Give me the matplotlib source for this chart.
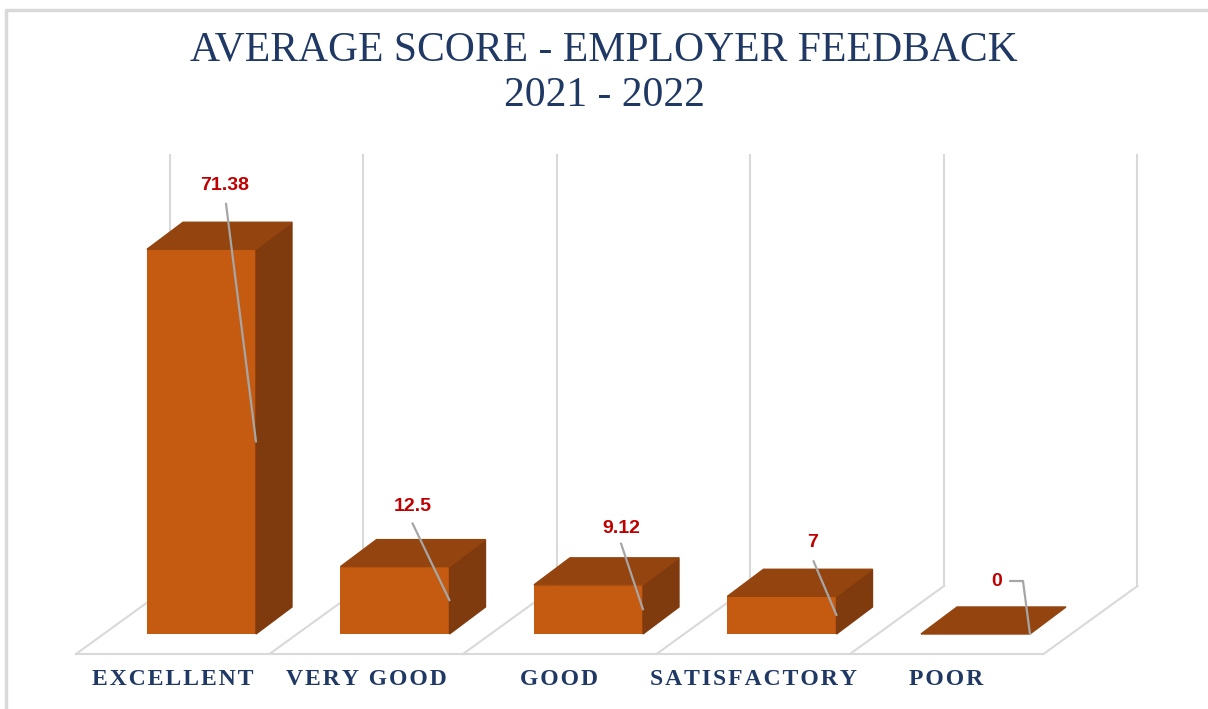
import matplotlib
matplotlib.use("Agg")
import matplotlib.pyplot as plt
from matplotlib.patches import Polygon
from matplotlib.transforms import offset_copy

# data
categories = ["EXCELLENT", "VERY GOOD", "GOOD", "SATISFACTORY", "POOR"]
scores = [71.38, 12.5, 9.12, 7, 0]
score_labels = ["71.38", "12.5", "9.12", "7", "0"]

# colours
FRONT = "#C55A11"
TOP = "#94440E"
SIDE = "#7F3A0D"
GRID = "#D9D9D9"
NAVY = "#1F3864"
RED = "#C00000"
LEADER = "#A6A6A6"

fig = plt.figure(figsize=(12.08, 7.09), dpi=100)
ax = fig.add_axes([0, 0, 1, 1])
ax.set_xlim(-1.0413, 5.2016)
ax.set_ylim(-13.915, 117.625)
ax.axis("off")

# 3d look (data units)
bar_w = 0.5633
depth_x, depth_y = 0.186, 5.01
floor_front, floor_back = -3.711, 8.905
div_front, div_back = -0.6486, -0.1628
wall_top = 88.87
n = len(categories)

# back wall gridlines + floor
for k in range(n + 1):
    ax.plot([k + div_back, k + div_back], [floor_back, wall_top], color=GRID, lw=1.5, zorder=1)
    ax.plot([k + div_front, k + div_back], [floor_front, floor_back], color=GRID, lw=1.5, zorder=1)
ax.plot([div_front, n + div_front], [floor_front, floor_front], color=GRID, lw=1.5, zorder=1)

# bars
for i, v in enumerate(scores):
    x0 = i - bar_w / 2
    x1 = i + bar_w / 2
    if v > 0:
        ax.bar(i, v, width=bar_w, color=FRONT, zorder=3)
        ax.add_patch(Polygon([(x1, 0), (x1 + depth_x, depth_y), (x1 + depth_x, v + depth_y), (x1, v)],
                             closed=True, color=SIDE, zorder=3))
    ax.add_patch(Polygon([(x0, v), (x1, v), (x1 + depth_x, v + depth_y), (x0 + depth_x, v + depth_y)],
                         closed=True, color=TOP, zorder=3))

# value labels with leader lines (offsets in pixels from front-right edge, mid height)
leader_off = [(-30, 238), (-37, 77), (-22, 66), (-23, 54)]
label_off = [(-1, 18), (0, 17), (0, 15), (-1, 19)]
for i, v in enumerate(scores[:4]):
    end = (i + bar_w / 2, v / 2)
    dx, dy = leader_off[i]
    ax.annotate("", xy=end, xytext=(dx, dy), textcoords="offset pixels",
                arrowprops=dict(arrowstyle="-", color=LEADER, lw=1.6, shrinkA=0, shrinkB=0), zorder=5)
    lx, ly = label_off[i]
    ax.annotate(score_labels[i], xy=end, xytext=(dx + lx, dy + ly), textcoords="offset pixels",
                ha="center", va="center", color=RED, fontsize=14, fontweight="bold",
                family="Liberation Sans", zorder=6)

# poor: elbow leader
end = (4 + bar_w / 2, scores[4])
ax.annotate("", xy=end, xytext=(-7, 53), textcoords="offset pixels",
            arrowprops=dict(arrowstyle="-", color=LEADER, lw=1.6, shrinkA=0, shrinkB=0), zorder=5)
elbow = offset_copy(ax.transData, fig, -7, 53, units="dots")
ax.annotate("", xy=end, xycoords=elbow, xytext=(-13, 0), textcoords="offset pixels",
            arrowprops=dict(arrowstyle="-", color=LEADER, lw=1.6, shrinkA=0, shrinkB=0), zorder=5)
ax.annotate(score_labels[4], xy=end, xytext=(-28, 52), textcoords="offset pixels",
            ha="right", va="center", color=RED, fontsize=14, fontweight="bold",
            family="Liberation Sans", zorder=6)

# category labels (letter spaced)
for i, c in enumerate(categories):
    spaced = "\u200a".join(c)
    ax.text(i - 0.15, -8.5, spaced, ha="center", va="center", color=NAVY,
            fontsize=17, fontweight="bold", family="Liberation Serif")

# title
fig.text(0.5, 1 - 50 / 709, "AVERAGE SCORE - EMPLOYER FEEDBACK", ha="center", va="center",
         color=NAVY, fontsize=30, family="Liberation Serif")
fig.text(0.5, 1 - 96 / 709, "2021 - 2022", ha="center", va="center",
         color=NAVY, fontsize=30, family="Liberation Serif")

# frame
ax.plot([0.005, 0.005, 1.0], [0.0, 0.9859, 0.9859], transform=ax.transAxes, color=GRID, lw=2.5,
        clip_on=False)

plt.savefig("out.png", dpi=100)
